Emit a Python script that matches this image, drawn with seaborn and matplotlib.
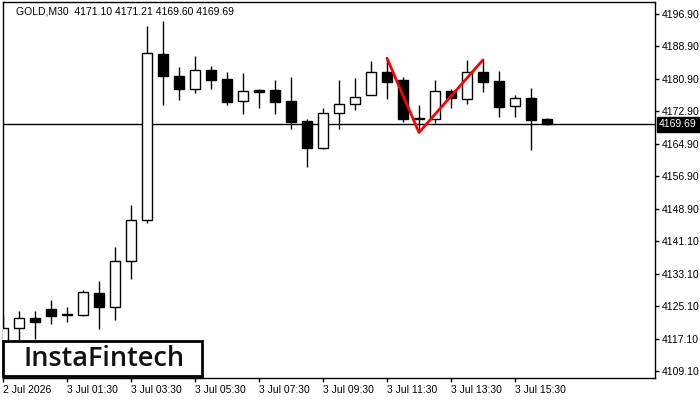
import numpy as np
import pandas as pd
import matplotlib
matplotlib.use('Agg')
import matplotlib.pyplot as plt
import matplotlib.transforms as mtransforms
from matplotlib.patches import Rectangle
import seaborn as sns

# GOLD M30 candles
opens = [4116.0, 4119.5, 4122.1, 4124.2, 4122.8, 4122.8, 4128.1, 4124.6, 4136.0, 4146.1,
         4187.0, 4181.6, 4178.5, 4183.0, 4180.8, 4175.5, 4178.2, 4178.2, 4175.5, 4170.6,
         4163.8, 4172.4, 4174.7, 4176.9, 4182.5, 4180.6, 4171.3, 4171.1, 4177.9, 4176.0,
         4182.5, 4180.3, 4174.2, 4176.1, 4171.10]
highs = [4122.5, 4123.6, 4123.6, 4126.5, 4124.7, 4128.9, 4131.2, 4139.4, 4149.9, 4194.0,
         4195.2, 4183.8, 4186.6, 4184.1, 4182.6, 4182.4, 4178.4, 4180.6, 4181.4, 4171.0,
         4173.7, 4180.6, 4181.1, 4185.2, 4186.0, 4181.3, 4174.4, 4180.6, 4178.4, 4185.6,
         4185.6, 4182.8, 4176.9, 4178.6, 4171.21]
lows = [4112.0, 4116.1, 4116.8, 4120.5, 4120.9, 4122.6, 4119.3, 4121.4, 4131.7, 4145.5,
        4174.5, 4175.7, 4177.5, 4178.4, 4174.6, 4172.3, 4173.8, 4172.3, 4168.5, 4159.3,
        4163.6, 4168.5, 4173.2, 4176.9, 4176.0, 4170.4, 4168.3, 4170.0, 4173.8, 4174.8,
        4177.8, 4171.4, 4171.4, 4163.4, 4169.60]
closes = [4119.6, 4121.9, 4120.9, 4122.6, 4122.9, 4128.4, 4124.6, 4136.0, 4146.1, 4187.2,
          4181.7, 4178.5, 4183.0, 4180.6, 4175.3, 4177.9, 4177.8, 4175.3, 4170.4, 4163.8,
          4172.4, 4174.7, 4176.4, 4182.5, 4180.2, 4171.1, 4171.0, 4177.9, 4176.3, 4182.5,
          4180.2, 4174.1, 4176.1, 4170.7, 4169.69]

# double top pattern line (bar index, price)
pattern_bars = [24, 26, 30]
pattern_prices = [4186.0, 4167.7, 4185.6]

last_price = 4169.69

x_tick_bars = [0, 4, 8, 12, 16, 20, 24, 28, 32]
x_tick_labels = ['2 Jul 2026', '3 Jul 01:30', '3 Jul 03:30', '3 Jul 05:30', '3 Jul 07:30',
                 '3 Jul 09:30', '3 Jul 11:30', '3 Jul 13:30', '3 Jul 15:30']
y_tick_labels = ['4196.90', '4188.90', '4180.90', '4172.90', '4164.90', '4156.90',
                 '4148.90', '4141.10', '4133.10', '4125.10', '4117.10', '4109.10']
y_tick_step = 8.0

df = pd.DataFrame({'open': opens, 'high': highs, 'low': lows, 'close': closes})
df['bar'] = np.arange(len(df))
df['bull'] = df['close'] >= df['open']

sns.set_style('white')
plt.rcParams['font.family'] = ['Liberation Sans', 'DejaVu Sans']

fig = plt.figure(figsize=(7, 4), dpi=100)
ax = fig.add_axes([3 / 700, 22 / 400, 652 / 700, 376 / 400])

# current price line (behind candles)
ax.axhline(last_price, color='black', lw=1.0, zorder=1)

# wicks
ax.vlines(df['bar'], df['low'], df['high'], color='black', lw=1.0, zorder=2)

# bodies
body_h = (df['close'] - df['open']).abs().clip(lower=0.25)
body_b = df[['open', 'close']].min(axis=1)
colors = np.where(df['bull'], 'white', 'black')
ax.bar(df['bar'], body_h, bottom=body_b, width=0.62, color=colors,
       edgecolor='black', linewidth=1.0, zorder=3)

# pattern
sns.lineplot(x=pattern_bars, y=pattern_prices, color='#ff0000', lw=2.0, ax=ax,
             zorder=4, sort=False)

ax.set_xlim(0, 40.75)
ax.set_ylim(4107.2, 4199.86)

yticks = [float(y_tick_labels[0]) - y_tick_step * k for k in range(len(y_tick_labels))]
ax.yaxis.tick_right()
ax.set_yticks(yticks)
ax.set_yticklabels(y_tick_labels)
ax.set_xticks(x_tick_bars)
ax.set_xticklabels(x_tick_labels, ha='left')
for lbl in ax.get_xticklabels():
    lbl.set_transform(lbl.get_transform() + mtransforms.ScaledTranslation(-2 / 72, 0, fig.dpi_scale_trans))
ax.tick_params(axis='y', which='both', right=True, left=False, direction='out',
               length=3, width=1, pad=1.5, labelsize=7.5, colors='black')
ax.tick_params(axis='x', which='both', bottom=True, direction='out',
               length=3, width=1, pad=2, labelsize=7.5, colors='black')
ax.set_xlabel('')
ax.set_ylabel('')
for s in ax.spines.values():
    s.set_color('black')
    s.set_linewidth(1.0)

# header
ax.text(13 / 652, 1 - 9 / 376, 'GOLD,M30  4171.10 4171.21 4169.60 4169.69',
        transform=ax.transAxes, fontsize=7.5, va='center', ha='left', color='black')

# last price tag
trans = mtransforms.blended_transform_factory(ax.transAxes, ax.transData)
ax.annotate(f'{last_price:.2f}', xy=(1.0, last_price), xycoords=trans,
            xytext=(3, 0), textcoords='offset points', ha='left', va='center',
            fontsize=7.5, color='white', annotation_clip=False,
            bbox=dict(boxstyle='square,pad=0.25', fc='black', ec='black'))

# logo box
ax.add_patch(Rectangle((0, 2 / 376), 199 / 652, 35 / 376, transform=ax.transAxes,
                       facecolor='white', edgecolor='black', lw=2.0, zorder=10,
                       clip_on=False))
ax.text(101 / 652, 19 / 376, 'InstaFintech', transform=ax.transAxes,
        fontsize=19.5, family='Open Sans', fontweight='semibold', color='#111111',
        ha='center', va='center', zorder=11)

fig.savefig('out.png', dpi=100)
